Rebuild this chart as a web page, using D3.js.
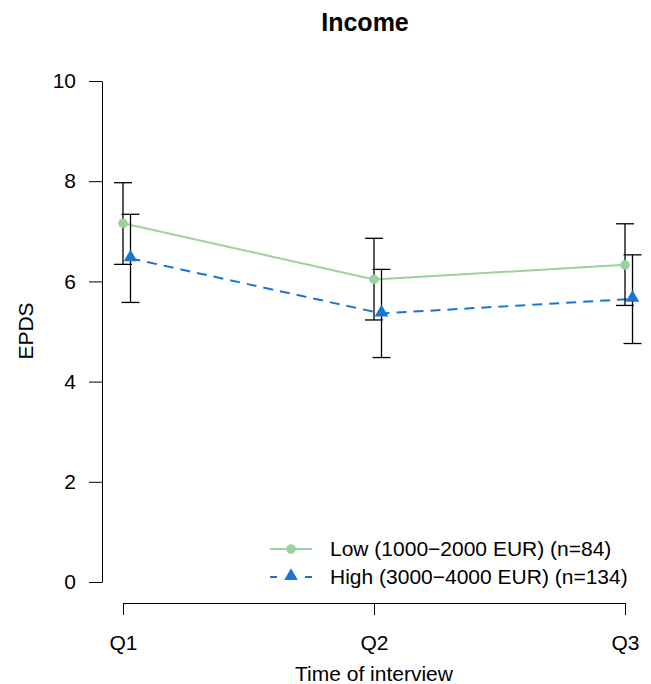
<!DOCTYPE html>
<html>
<head>
<meta charset="utf-8">
<script src="https://cdn.jsdelivr.net/npm/d3@7"></script>
<style>
  body { margin: 0; background: #fff; }
  text { font-family: "Liberation Sans", Arial, Helvetica, sans-serif; fill: #000; }
</style>
</head>
<body>
<div id="chart"></div>
<script>
var svgWidth = 651
var svgHeight = 684

// data
var quarters = ["Q1", "Q2", "Q3"]
var lowMean = [7.16, 6.04, 6.33]
var lowLo = [6.34, 5.23, 5.52]
var lowHi = [7.97, 6.86, 7.15]
var highMean = [6.46, 5.36, 5.65]
var highLo = [5.58, 4.48, 4.76]
var highHi = [7.34, 6.24, 6.53]
var yTicks = [0, 2, 4, 6, 8, 10]
var seriesNames = ["Low (1000\u22122000 EUR) (n=84)", "High (3000\u22124000 EUR) (n=134)"]

var green = "#9dd19d"
var blue = "#1b74d2"

var svg = d3.select("#chart").append("svg")
    .attr("width", svgWidth)
    .attr("height", svgHeight)

var x = d3.scalePoint().domain(quarters).range([123, 625])
var y = d3.scaleLinear().domain([0, 10]).range([582, 81])
var dodge = 7.5

// axes
var yAxis = svg.append("g")
    .attr("transform", "translate(102,0)")
    .call(d3.axisLeft(y).tickValues(yTicks).tickSize(13).tickPadding(13).tickSizeOuter(0))
yAxis.selectAll("text").style("font-size", "21px")
yAxis.selectAll("line, path").attr("stroke", "#000").attr("stroke-width", 1)

var xAxis = svg.append("g")
    .attr("transform", "translate(0,603)")
    .call(d3.axisBottom(x).tickSize(12).tickSizeOuter(0))
xAxis.selectAll("text").style("font-size", "21px").attr("y", 47).attr("dy", 0)
xAxis.selectAll("line, path").attr("stroke", "#000").attr("stroke-width", 1)

// titles
svg.append("text")
    .attr("x", 365).attr("y", 31)
    .attr("text-anchor", "middle")
    .style("font-size", "25px").style("font-weight", "bold")
    .text("Income")

svg.append("text")
    .attr("x", 374).attr("y", 681)
    .attr("text-anchor", "middle")
    .style("font-size", "21px")
    .text("Time of interview")

svg.append("text")
    .attr("transform", "translate(33,331) rotate(-90)")
    .attr("text-anchor", "middle")
    .style("font-size", "21px")
    .text("EPDS")

// lines
var lowPts = quarters.map(function(q, i) { return {x: x(q), m: lowMean[i], lo: lowLo[i], hi: lowHi[i]} })
var highPts = quarters.map(function(q, i) { return {x: x(q) + dodge, m: highMean[i], lo: highLo[i], hi: highHi[i]} })

var line = d3.line().x(function(d) { return d.x }).y(function(d) { return y(d.m) })

svg.append("path").datum(lowPts)
    .attr("d", line).attr("fill", "none")
    .attr("stroke", green).attr("stroke-width", 2)

svg.append("path").datum(highPts)
    .attr("d", line).attr("fill", "none")
    .attr("stroke", blue).attr("stroke-width", 2)
    .attr("stroke-dasharray", "10,7")

// error bars
function errorBars(pts) {
    var g = svg.append("g").attr("stroke", "#000").attr("stroke-width", 1.3)
    pts.forEach(function(d) {
        g.append("line").attr("x1", d.x).attr("x2", d.x).attr("y1", y(d.lo)).attr("y2", y(d.hi))
        g.append("line").attr("x1", d.x - 9).attr("x2", d.x + 9).attr("y1", y(d.lo)).attr("y2", y(d.lo))
        g.append("line").attr("x1", d.x - 9).attr("x2", d.x + 9).attr("y1", y(d.hi)).attr("y2", y(d.hi))
    })
}
errorBars(lowPts)
errorBars(highPts)

// markers
var tri = d3.symbol().type(d3.symbolTriangle).size(80)

svg.selectAll(".lowpt").data(lowPts).enter()
    .append("circle")
    .attr("cx", function(d) { return d.x })
    .attr("cy", function(d) { return y(d.m) })
    .attr("r", 4.8)
    .style("fill", green)

svg.selectAll(".highpt").data(highPts).enter()
    .append("path")
    .attr("d", tri)
    .attr("transform", function(d) { return "translate(" + d.x + "," + (y(d.m) - 1) + ")" })
    .style("fill", blue)

// legend
var legend = svg.append("g")
var rows = [549, 577]

legend.append("line").attr("x1", 270).attr("x2", 312).attr("y1", rows[0]).attr("y2", rows[0])
    .attr("stroke", green).attr("stroke-width", 2)
legend.append("circle").attr("cx", 291).attr("cy", rows[0]).attr("r", 4.8).style("fill", green)

legend.append("line").attr("x1", 270).attr("x2", 312).attr("y1", rows[1]).attr("y2", rows[1])
    .attr("stroke", blue).attr("stroke-width", 2).attr("stroke-dasharray", "7,28")
legend.append("path").attr("d", tri).attr("transform", "translate(291," + (rows[1] - 1) + ")").style("fill", blue)

legend.selectAll(".lbl").data(seriesNames).enter()
    .append("text")
    .attr("x", 330)
    .attr("y", function(d, i) { return rows[i] + 7 })
    .style("font-size", "21px")
    .text(function(d) { return d })
</script>
</body>
</html>
